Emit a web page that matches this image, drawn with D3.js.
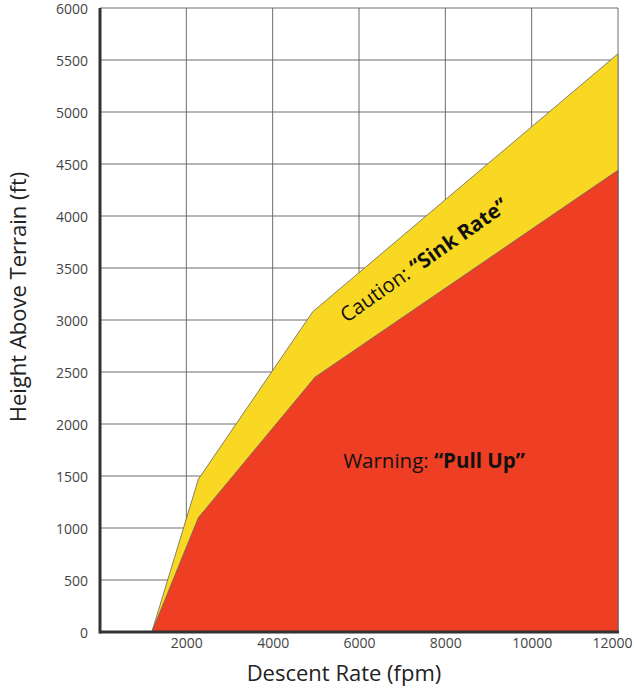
<!DOCTYPE html>
<html><head><meta charset="utf-8">
<script src="https://cdn.jsdelivr.net/npm/d3@7"></script>
<style>body{margin:0;background:#fff}svg{display:block}text{font-family:"Open Sans","Noto Sans",sans-serif}</style>
</head><body>
<script>
const xTicks = [2000, 4000, 6000, 8000, 10000, 12000];
const yTicks = [0, 500, 1000, 1500, 2000, 2500, 3000, 3500, 4000, 4500, 5000, 5500, 6000];
const cautionX = [1200, 2280, 4930, 12000];
const cautionY = [0, 1470, 3080, 5560];
const warningX = [1200, 2280, 4980, 12000];
const warningY = [0, 1100, 2450, 4440];

const W = 634, H = 694;
const m = {l:100, r:16, t:8, b:62};
const svg = d3.select("body").append("svg").attr("width", W).attr("height", H);
const x = d3.scaleLinear().domain([0, 12000]).range([m.l, W - m.r]);
const y = d3.scaleLinear().domain([0, 6000]).range([H - m.b, m.t]);

// grid
svg.append("g").selectAll("line").data(yTicks.filter(d => d > 0)).join("line")
  .attr("x1", x(0)).attr("x2", x(12000)).attr("y1", d => y(d)).attr("y2", d => y(d))
  .attr("stroke", "#5e5e5e").attr("stroke-width", 0.9);
svg.append("g").selectAll("line").data(xTicks).join("line")
  .attr("x1", d => x(d)).attr("x2", d => x(d)).attr("y1", y(0)).attr("y2", y(6000))
  .attr("stroke", "#5e5e5e").attr("stroke-width", 0.9);

function poly(xs, ys) {
  const pts = xs.map((v, i) => [x(v), y(ys[i])]);
  pts.push([x(12000), y(0)]);
  return d3.line()(pts) + "Z";
}
svg.append("path").attr("d", poly(cautionX, cautionY))
  .attr("fill", "#F9D823").attr("stroke", "#666").attr("stroke-width", 0.8);
svg.append("path").attr("d", poly(warningX, warningY))
  .attr("fill", "#EE3E24").attr("stroke", "#666").attr("stroke-width", 0.8);

// axes
const xa = svg.append("g").attr("transform", `translate(0,${y(0)})`)
  .call(d3.axisBottom(x).tickValues(xTicks).tickSize(0).tickPadding(5).tickFormat(d3.format("d")));
const ya = svg.append("g").attr("transform", `translate(${x(0)},0)`)
  .call(d3.axisLeft(y).tickValues(yTicks).tickSize(0).tickPadding(12).tickFormat(d3.format("d")));
[xa, ya].forEach(a => {
  a.select(".domain").remove();
  a.selectAll("text").attr("font-size", 14).attr("fill", "#444").attr("font-family", '"Open Sans",sans-serif');
});
xa.selectAll("text").attr("dy", "0.75em");
xa.selectAll(".tick").filter(d => d === 12000).select("text").attr("text-anchor", "end").attr("x", 14);
ya.selectAll("text").attr("dy", "0.42em");
// thick axis lines
svg.append("line").attr("x1", x(0)).attr("x2", x(0)).attr("y1", y(6000)).attr("y2", y(0) + 1.5)
  .attr("stroke", "#333").attr("stroke-width", 3);
svg.append("line").attr("x1", x(0)).attr("x2", x(12000) + 1).attr("y1", y(0)).attr("y2", y(0))
  .attr("stroke", "#333").attr("stroke-width", 3);

// labels
svg.append("text").attr("x", 344).attr("y", 681).attr("text-anchor", "middle")
  .attr("font-size", 22).attr("fill", "#222").text("Descent Rate (fpm)");
svg.append("text").attr("transform", "translate(26,297) rotate(-90)").attr("text-anchor", "middle")
  .attr("font-size", 22).attr("fill", "#222").text("Height Above Terrain (ft)");

const c = svg.append("text").attr("transform", "translate(428,266) rotate(-35)")
  .attr("text-anchor", "middle").attr("font-size", 20.5).attr("fill", "#111");
c.append("tspan").text("Caution: ");
c.append("tspan").attr("font-weight", "bold").text("“Sink Rate”");

const w = svg.append("text").attr("x", 434).attr("y", 468)
  .attr("text-anchor", "middle").attr("font-size", 20.5).attr("fill", "#111");
w.append("tspan").text("Warning: ");
w.append("tspan").attr("font-weight", "bold").text("“Pull Up”");
</script>
</body></html>
